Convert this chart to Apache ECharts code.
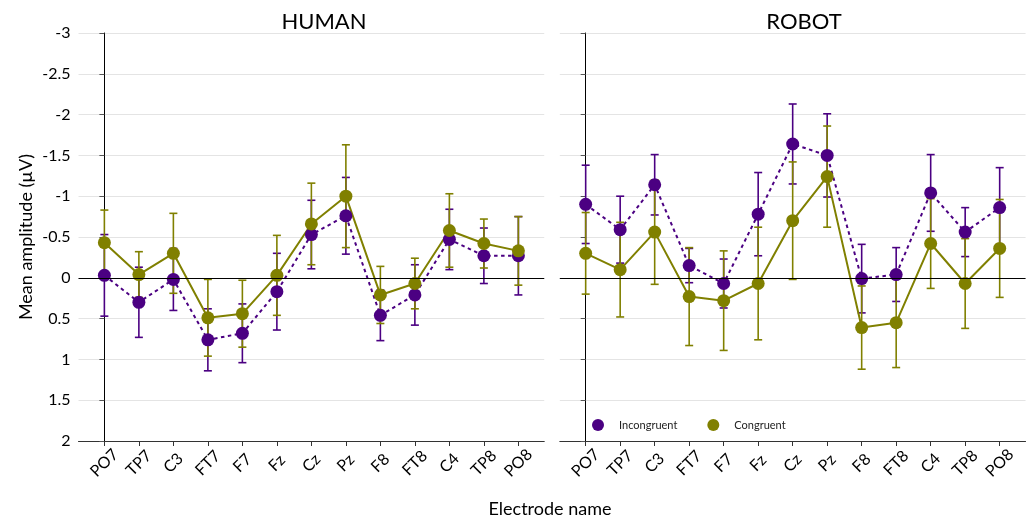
<!DOCTYPE html>
<html>
<head>
<meta charset="utf-8">
<script src="https://cdn.jsdelivr.net/npm/echarts@6/dist/echarts.min.js"></script>
<style>
html,body{margin:0;padding:0;background:#fff;}
#chart{width:1030px;height:520px;}
</style>
</head>
<body>
<div id="chart"></div>
<script>
const categories = ['PO7','TP7','C3','FT7','F7','Fz','Cz','Pz','F8','FT8','C4','TP8','PO8'];

const humanIncong    = [-0.03, 0.30, 0.02, 0.76, 0.68, 0.17, -0.53, -0.76, 0.46, 0.21, -0.47, -0.27, -0.27];
const humanIncongErr = [0.50, 0.43, 0.38, 0.38, 0.36, 0.47, 0.42, 0.47, 0.31, 0.37, 0.37, 0.34, 0.48];
const humanCong      = [-0.43, -0.04, -0.30, 0.49, 0.44, -0.03, -0.66, -1.00, 0.21, 0.07, -0.58, -0.42, -0.33];
const humanCongErr   = [0.40, 0.28, 0.49, 0.47, 0.41, 0.49, 0.50, 0.63, 0.35, 0.31, 0.45, 0.30, 0.42];

const robotIncong    = [-0.90, -0.59, -1.14, -0.15, 0.07, -0.78, -1.64, -1.50, 0.01, -0.04, -1.04, -0.56, -0.86];
const robotIncongErr = [0.48, 0.41, 0.37, 0.21, 0.30, 0.51, 0.49, 0.51, 0.42, 0.33, 0.47, 0.30, 0.49];
const robotCong      = [-0.30, -0.10, -0.56, 0.23, 0.28, 0.07, -0.70, -1.24, 0.61, 0.55, -0.42, 0.07, -0.36];
const robotCongErr   = [0.50, 0.58, 0.64, 0.60, 0.61, 0.69, 0.72, 0.62, 0.51, 0.55, 0.55, 0.55, 0.60];

const panelTitles = ['HUMAN', 'ROBOT'];
const seriesNames = ['Incongruent', 'Congruent'];
const yAxisTitle = 'Mean amplitude (µV)';
const xAxisTitle = 'Electrode name';

const PURPLE = '#4b0082';
const OLIVE = '#808000';
const FONT = 'Lato, "DejaVu Sans", sans-serif';

const chart = echarts.init(document.getElementById('chart'), null, {renderer: 'canvas'});
const catIdx = categories.map((_, i) => i);

function xAxisFor(gi) {
  return {
    type: 'value', gridIndex: gi, min: -0.75, max: 12.75,
    axisLine: {show: true, onZero: false, lineStyle: {color: '#333', width: 1}},
    axisTick: {show: true, customValues: catIdx, length: 5, lineStyle: {color: '#333'}},
    axisLabel: {
      show: true, customValues: catIdx, rotate: 45, align: 'center', verticalAlign: 'middle',
      margin: 22, fontSize: 16, color: '#000', fontFamily: FONT,
      formatter: v => categories[Math.round(v)]
    },
    splitLine: {show: false}
  };
}
function yAxisFor(gi, showLabels) {
  return {
    type: 'value', gridIndex: gi, min: -3, max: 2, interval: 0.5, inverse: true,
    axisLine: {show: true, lineStyle: {color: '#000', width: 1}},
    axisTick: {show: true, length: 5, lineStyle: {color: '#555'}},
    axisLabel: {show: showLabels, fontSize: 16, color: '#000', fontFamily: FONT, margin: 8},
    splitLine: {show: true, lineStyle: {color: '#e4e4e4', width: 1}},
    name: showLabels ? yAxisTitle : '',
    nameLocation: 'middle', nameGap: 43,
    nameTextStyle: {fontSize: 18, color: '#000', fontFamily: FONT}
  };
}

function errSeries(name, vals, errs, color, gi) {
  return {
    type: 'custom', name: name + ' err', xAxisIndex: gi, yAxisIndex: gi,
    data: vals.map((v, i) => [i, v, errs[i]]),
    encode: {x: 0, y: 1},
    silent: true,
    renderItem: function (params, api) {
      const x = api.value(0), m = api.value(1), e = api.value(2);
      const a = api.coord([x, m - e]);
      const b = api.coord([x, m + e]);
      const cw = 4;
      const st = {stroke: color, lineWidth: 1.6};
      return {type: 'group', children: [
        {type: 'line', shape: {x1: a[0], y1: a[1], x2: b[0], y2: b[1]}, style: st},
        {type: 'line', shape: {x1: a[0] - cw, y1: a[1], x2: a[0] + cw, y2: a[1]}, style: st},
        {type: 'line', shape: {x1: b[0] - cw, y1: b[1], x2: b[0] + cw, y2: b[1]}, style: st}
      ]};
    }
  };
}
function lineSeries(name, vals, color, dashed, gi, zero) {
  const s = {
    type: 'line', name: name, xAxisIndex: gi, yAxisIndex: gi,
    data: vals.map((v, i) => [i, v]),
    symbol: 'circle', symbolSize: 13, showSymbol: true,
    itemStyle: {color: color},
    lineStyle: {color: color, width: 2, type: dashed ? [3.5, 3.5] : 'solid'},
    emphasis: {disabled: true},
    animation: false
  };
  if (zero) {
    s.markLine = {
      silent: true, symbol: ['none', 'none'], label: {show: false},
      lineStyle: {color: '#000', width: 1, type: 'solid'},
      data: [{yAxis: 0}], animation: false
    };
  }
  return s;
}

const option = {
  backgroundColor: '#fff',
  animation: false,
  grid: [
    {left: 78.5, top: 33, width: 465.75, height: 408},
    {left: 559.8, top: 33, width: 465.75, height: 408}
  ],
  xAxis: [xAxisFor(0), xAxisFor(1)],
  yAxis: [yAxisFor(0, true), yAxisFor(1, false)],
  legend: {
    left: 587, top: 414, orient: 'horizontal', itemGap: 30,
    itemWidth: 12, itemHeight: 12, icon: 'circle',
    textStyle: {fontSize: 11, color: '#222', fontFamily: FONT, padding: [0, 0, 0, 10]},
    data: seriesNames.map(n => ({name: n, icon: 'circle'})),
    selectedMode: false
  },
  graphic: [
    {type: 'text', x: 324, y: 22, style: {text: panelTitles[0], fontSize: 22, fontFamily: FONT, fill: '#000', textAlign: 'center', textVerticalAlign: 'middle'}},
    {type: 'text', x: 804, y: 22, style: {text: panelTitles[1], fontSize: 22, fontFamily: FONT, fill: '#000', textAlign: 'center', textVerticalAlign: 'middle'}},
    {type: 'text', x: 550, y: 509, style: {text: xAxisTitle, fontSize: 18, fontFamily: FONT, fill: '#000', textAlign: 'center', textVerticalAlign: 'middle'}}
  ],
  series: [
    errSeries(seriesNames[0], humanIncong, humanIncongErr, PURPLE, 0),
    lineSeries(seriesNames[0], humanIncong, PURPLE, true, 0, true),
    errSeries(seriesNames[1], humanCong, humanCongErr, OLIVE, 0),
    lineSeries(seriesNames[1], humanCong, OLIVE, false, 0, false),
    errSeries(seriesNames[0], robotIncong, robotIncongErr, PURPLE, 1),
    lineSeries(seriesNames[0], robotIncong, PURPLE, true, 1, true),
    errSeries(seriesNames[1], robotCong, robotCongErr, OLIVE, 1),
    lineSeries(seriesNames[1], robotCong, OLIVE, false, 1, false)
  ]
};
chart.setOption(option);
</script>
</body>
</html>
